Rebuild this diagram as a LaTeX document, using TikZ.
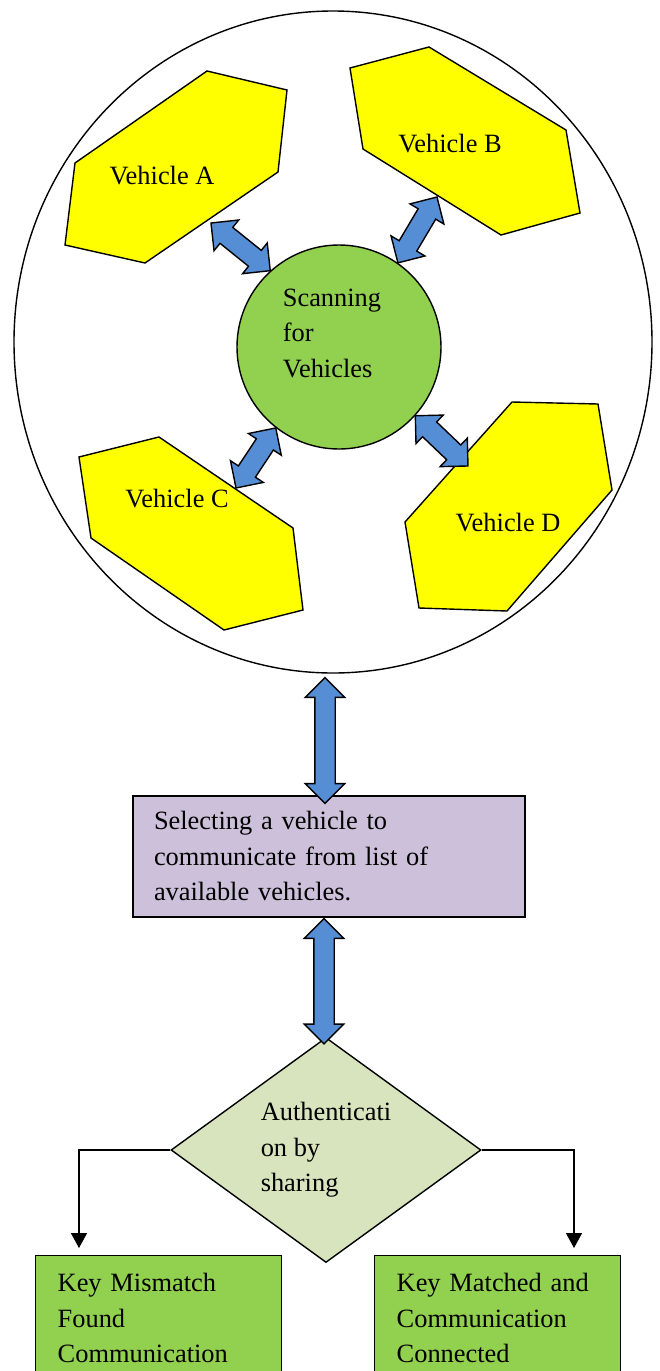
\documentclass[tikz,border=0pt]{standalone}
\usepackage{fontspec}
\setmainfont{Liberation Serif}
\usetikzlibrary{shapes.geometric,shapes.arrows,arrows.meta,calc,positioning}

\definecolor{vehyellow}{HTML}{FFFF00}
\definecolor{scangreen}{HTML}{92D050}
\definecolor{selpurple}{HTML}{CCC0DA}
\definecolor{authgreen}{HTML}{D7E4BD}
\definecolor{arrowblue}{HTML}{558ED5}

\newcommand{\linkarrow}[2]{%
  \path let \p1=($(#2)-(#1)$), \n1={atan2(\y1,\x1)}, \n2={veclen(\x1,\y1)} in
    node[blockarrow, minimum height=\n2, rotate=\n1] at ($(#1)!0.5!(#2)$) {};}

\begin{document}
\begin{tikzpicture}[x=0.5pt, y=-0.5pt, line width=0.7pt,
    every node/.style={font=\fontsize{13.2}{17.75}\selectfont},
    hexfill/.style={draw, fill=vehyellow},
    blockarrow/.style={double arrow, draw, fill=arrowblue, inner xsep=0pt, inner ysep=4.75pt,
      double arrow head extend=4.75pt},
    flowline/.style={draw, -{Triangle[length=7.5pt,width=8pt]}},
    resultbox/.style={draw, rectangle, fill=scangreen, align=left, anchor=north west,
      text width=101pt, inner xsep=11pt, inner ysep=8.8pt, text depth=40pt}]
    \clip (0,0) rectangle (659,1371);

    \node[ellipse, draw, minimum width=319pt, minimum height=331pt, inner sep=0pt] (outer) at (333,342) {};

    \draw[hexfill] (207,71) -- (287,90) -- (278,172) -- (145,263) -- (65,245) -- (75,163) -- cycle;
    \draw[hexfill] (350,68) -- (429,47) -- (566,130) -- (580,213) -- (501,235) -- (363,149) -- cycle;
    \draw[hexfill] (79,457) -- (159,437) -- (293,528) -- (303,610) -- (224,630) -- (91,538) -- cycle;
    \draw[hexfill] (512,402) -- (598,404) -- (612,490) -- (507,611) -- (419,608) -- (405,522) -- cycle;
    \node (vehA) at (162,176) {Vehicle A};
    \node (vehB) at (450,144) {Vehicle B};
    \node (vehC) at (177,499) {Vehicle C};
    \node (vehD) at (508,523) {Vehicle D};

    \node[circle, draw, fill=scangreen, minimum size=102pt, inner sep=0pt] (scan) at (339,347) {};
    \node[align=left] (scantext) at (332,333) {Scanning\\for\\Vehicles};

    \coordinate (tipA) at (211,223);
    \coordinate (tipB) at (437,197);
    \coordinate (tipC) at (236,488);
    \coordinate (tipD) at (468,466);
    \linkarrow{tipA}{scan.132}
    \linkarrow{tipB}{scan.55}
    \linkarrow{tipC}{scan.232}
    \linkarrow{tipD}{scan.318}

    \node[rectangle, draw, fill=selpurple, align=left, text width=175pt, inner xsep=10.5pt,
      minimum height=60.5pt] (select) at (329,856.5)
      {Selecting a vehicle to\\communicate from list of\\available vehicles.};

    \node[diamond, draw, fill=authgreen, aspect=1.378, inner sep=0pt, minimum width=155pt,
      minimum height=112.5pt, align=left] (auth) at (326,1150) {Authenticati\\on by\\sharing};

    \coordinate (topA) at ($(outer.south)+(-8,4)$);
    \coordinate (topB) at ($(select.north)+(-4,8)$);
    \coordinate (midA) at ($(select.south)+(-5,1)$);
    \coordinate (midB) at ($(auth.north)+(-2,7)$);
    \linkarrow{topA}{topB}
    \linkarrow{midA}{midB}

    \node[resultbox] (keyfail) at (35,1255) {Key Mismatch\\Found\\Communication};
    \node[resultbox] (keyok) at (374,1255) {Key Matched and\\Communication\\Connected};

    \coordinate (failtip) at ($(keyfail.north west)+(44,-7)$);
    \coordinate (oktip) at ($(keyok.north west)+(200,-7)$);
    \draw[flowline] (auth.west) -| (failtip);
    \draw[flowline] (auth.east) -| (oktip);
\end{tikzpicture}
\end{document}
